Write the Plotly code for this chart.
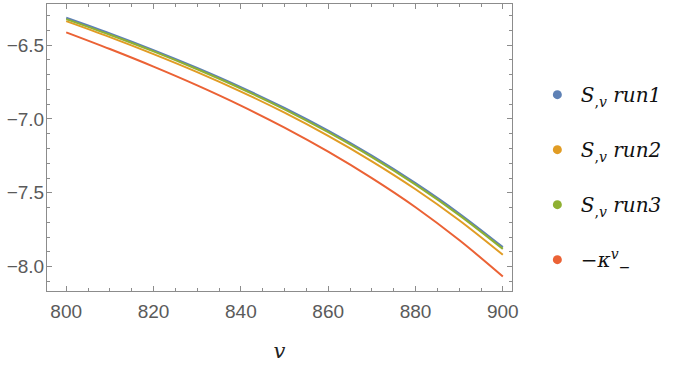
import plotly.graph_objects as go

# sample points along v
v = [800, 810, 820, 830, 840, 850, 860, 870, 880, 890, 900]

s_run1 = [-6.315, -6.421, -6.534, -6.655, -6.785, -6.926, -7.080, -7.249, -7.435, -7.640, -7.868]
s_run2 = [-6.338, -6.446, -6.561, -6.683, -6.815, -6.958, -7.115, -7.287, -7.476, -7.686, -7.920]
s_run3 = [-6.324, -6.430, -6.543, -6.664, -6.794, -6.935, -7.090, -7.259, -7.445, -7.651, -7.880]
kappa = [-6.414, -6.527, -6.646, -6.773, -6.910, -7.059, -7.222, -7.401, -7.598, -7.820, -8.067]

names = ["<i>S</i><sub>,<i>v</i></sub> <i>run1</i>",
         "<i>S</i><sub>,<i>v</i></sub> <i>run2</i>",
         "<i>S</i><sub>,<i>v</i></sub> <i>run3</i>",
         "\u2212<i>\u03ba</i><sup><i>v</i></sup><sub>\u2212</sub>"]
colors = ["#5E81B5", "#E19C24", "#8FB032", "#EB6235"]

SANS = "Liberation Sans"
SERIF = "DejaVu Serif"

fig = go.Figure()
for i, ys in enumerate([s_run1, s_run2, s_run3, kappa]):
    fig.add_trace(go.Scatter(x=v, y=ys, mode="lines", line=dict(color=colors[i], width=2, shape="spline"),
                             showlegend=False, hoverinfo="skip"))
# legend dots
for i in range(4):
    fig.add_trace(go.Scatter(x=[None], y=[None], mode="markers", name=names[i],
                             marker=dict(color=colors[i], size=9), legendgroup=str(i)))

axis_common = dict(showline=True, linecolor="#8c8c8c", linewidth=1, mirror="allticks",
                   ticks="inside", ticklen=5, tickcolor="#8c8c8c", showgrid=False, zeroline=False,
                   automargin=False,
                   tickfont=dict(family=SANS, size=19, color="#5a5a5a"))

fig.update_xaxes(range=[795.6, 902.1], tickvals=[800, 820, 840, 860, 880, 900],
                 minor=dict(ticks="inside", ticklen=3, dtick=5, tick0=800, tickcolor="#8c8c8c"),
                 ticklabelstandoff=3,
                 title=dict(text="<i>v</i>", font=dict(family=SERIF, size=21, color="#222"),
                            standoff=22),
                 **axis_common)
fig.update_yaxes(range=[-8.165, -6.222], tickvals=[-8.0, -7.5, -7.0, -6.5],
                 ticktext=["\u22128.0", "\u22127.5", "\u22127.0", "\u22126.5"],
                 minor=dict(ticks="inside", ticklen=3, dtick=0.1, tick0=-8.0, tickcolor="#8c8c8c"),
                 ticklabelstandoff=-2,
                 **axis_common)

fig.update_layout(width=684, height=369, paper_bgcolor="white", plot_bgcolor="white",
                  margin=dict(l=47, r=172, t=4, b=78),
                  legend=dict(x=1.047, y=0.752, xanchor="left", yanchor="top", tracegroupgap=26,
                              itemwidth=37,
                              font=dict(family=SERIF, size=20, color="#111"),
                              bgcolor="rgba(0,0,0,0)"))

fig.write_html("out.html", config={"displayModeBar": False},
               post_script="document.body.style.margin='0';")
